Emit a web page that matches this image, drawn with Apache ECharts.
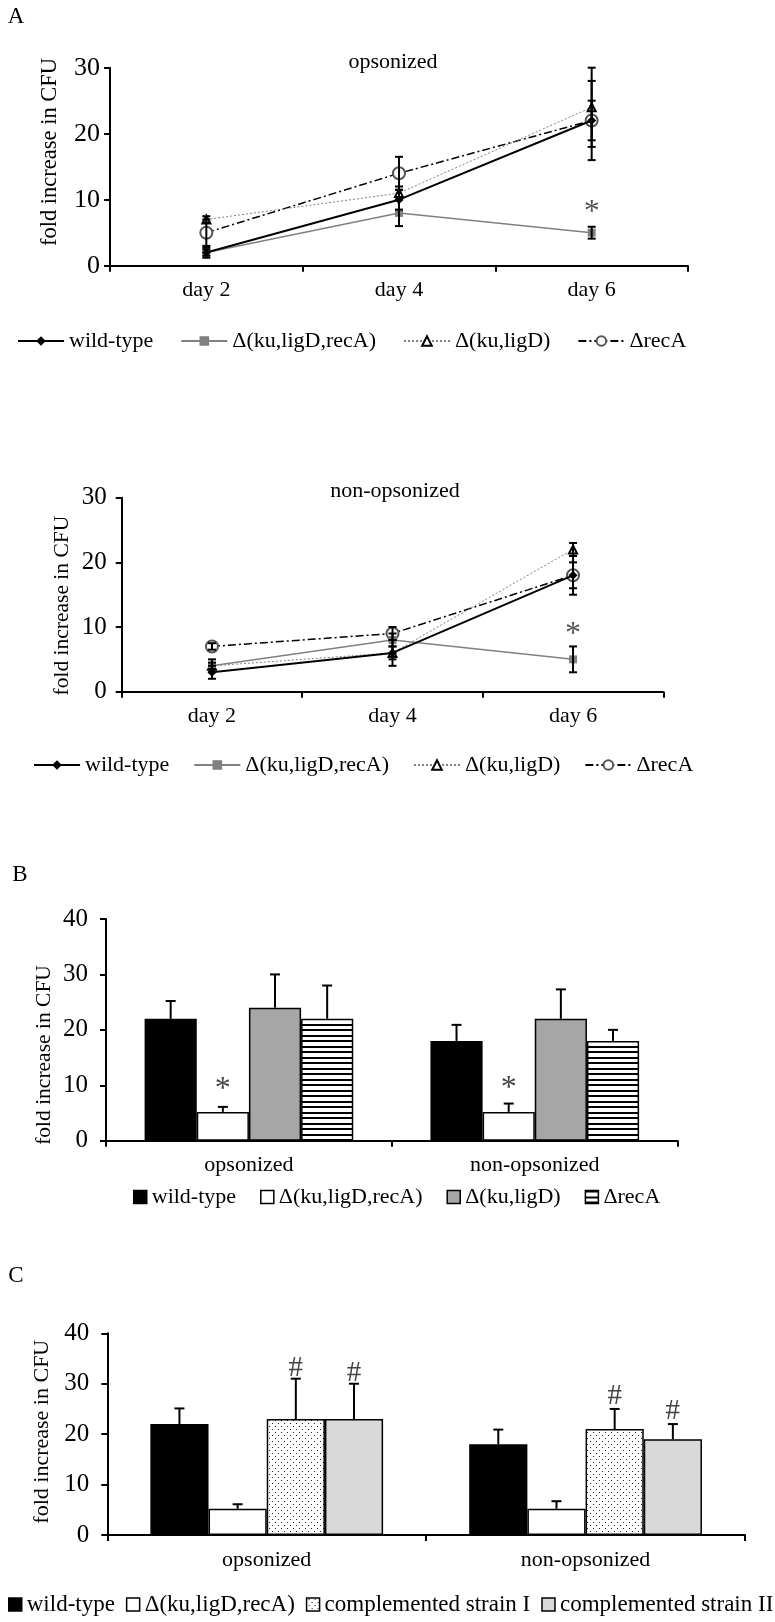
<!DOCTYPE html>
<html><head><meta charset="utf-8">
<script src="https://cdn.jsdelivr.net/npm/echarts@6/dist/echarts.min.js"></script>
<style>
html,body{margin:0;padding:0;background:#fff;}
#wrap{position:relative;width:775px;height:1622px;background:#fff;}
.panel{position:absolute;left:0;width:775px;}
</style></head><body>
<div id="wrap">
<div id="a1" class="panel" style="top:0;height:420px"></div>
<div id="a2" class="panel" style="top:420px;height:400px"></div>
<div id="b" class="panel" style="top:820px;height:410px"></div>
<div id="c" class="panel" style="top:1230px;height:392px"></div>
</div>
<script>
// ---------------- data ----------------
const days = ['day 2', 'day 4', 'day 6'];
const groups = ['opsonized', 'non-opsonized'];
const strainNames = ['wild-type', 'Δ(ku,ligD,recA)', 'Δ(ku,ligD)', 'ΔrecA'];
const compNames = ['wild-type', 'Δ(ku,ligD,recA)', 'complemented strain I', 'complemented strain II'];
const yLabel = 'fold increase in CFU';

// Panel A, opsonized (mean, error)
const opsWT = [2, 10, 22],   opsWTErr = [0.8, 1.5, 3];
const opsKLR = [2, 8, 5],    opsKLRErr = [0.5, 2, 0.9];
const opsKL = [7, 11, 24],   opsKLErr = [0.5, 1, 6];
const opsRecA = [5, 14, 22], opsRecAErr = [2, 2.5, 6];
const opsStar = [null, null, 8.0];

// Panel A, non-opsonized
const nonWT = [3, 6, 18],    nonWTErr = [1, 2, 2];
const nonKLR = [4, 8, 5],    nonKLRErr = [1, 1, 2];
const nonKL = [4, 6, 22],    nonKLErr = [0.5, 1, 1];
const nonRecA = [7, 9, 18],  nonRecAErr = [0.5, 1, 3];
const nonStar = [null, null, 8.8];

// Panel B (opsonized, non-opsonized)
const bWT = [22, 18],     bWTErr = [3.2, 2.9];
const bKLR = [5.2, 5.2],  bKLRErr = [0.9, 1.5];
const bKL = [24, 22],     bKLErr = [6, 5.3];
const bRecA = [22, 18],   bRecAErr = [6, 2];
const bStar = [9.2, 9.4];          // '*' above Δ(ku,ligD,recA)

// Panel C
const cWT = [22, 18],     cWTErr = [3.1, 2.9];
const cKLR = [5.2, 5.2],  cKLRErr = [0.9, 1.5];
const cComp1 = [23, 21],  cComp1Err = [8, 4];
const cComp2 = [23, 19],  cComp2Err = [7, 3];
const cHash1 = [33.1, 27.4];       // '#' above complemented strain I
const cHash2 = [32.1, 24.5];       // '#' above complemented strain II

// ---------------- styles ----------------
const FONT = "'Liberation Serif','Times New Roman',serif";
const lineStyles = [
  {line: '#000', type: 'solid', w: 2, sym: 'diamond', size: 9, item: '#000', z: 5},
  {line: '#808080', type: 'solid', w: 1.5, sym: 'rect', size: 8, item: '#808080', z: 4},
  {line: '#808080', type: [2, 2], w: 1, sym: 'emptyTriangle', size: 8, item: '#000', z: 3},
  {line: '#000', type: [8, 3, 2, 3], w: 1.5, sym: 'emptyCircle', size: 12, item: '#555', z: 2}
];

function stripePattern() {
  const c = document.createElement('canvas'); c.width = 4; c.height = 11;
  const g = c.getContext('2d');
  g.fillStyle = '#fff'; g.fillRect(0, 0, 4, 11);
  g.fillStyle = '#000'; g.fillRect(0, 0, 4, 2); g.fillRect(0, 6, 4, 2);
  return {image: c, repeat: 'repeat'};
}
function dotPattern() {
  const c = document.createElement('canvas'); c.width = 6; c.height = 6;
  const g = c.getContext('2d');
  g.fillStyle = '#fff'; g.fillRect(0, 0, 6, 6);
  g.fillStyle = '#222'; g.fillRect(2, 1, 1, 1); g.fillRect(5, 4, 1, 1);
  return {image: c, repeat: 'repeat'};
}

function gText(x, y, text, size, rot) {
  return {type: 'text', x: x, y: y, rotation: rot || 0,
    style: {text: text, fontSize: size, fontFamily: FONT, fill: '#000', align: 'center', verticalAlign: 'middle'}};
}

function capLines(x, yTop, yBot, hw, showBottom) {
  const st = {stroke: '#000', lineWidth: 2};
  const ch = [
    {type: 'line', shape: {x1: x, y1: yTop, x2: x, y2: yBot}, style: st},
    {type: 'line', shape: {x1: x - hw, y1: yTop, x2: x + hw, y2: yTop}, style: st}
  ];
  if (showBottom) ch.push({type: 'line', shape: {x1: x - hw, y1: yBot, x2: x + hw, y2: yBot}, style: st});
  return {type: 'group', children: ch};
}

// ---------------- line panels ----------------
function lineOption(cfg) {
  const vals = cfg.vals, errs = cfg.errs;
  const series = strainNames.map((n, s) => {
    const st = lineStyles[s];
    return {
      name: n, type: 'line', data: vals[s], z: st.z,
      symbol: st.sym, symbolSize: st.size,
      lineStyle: {color: st.line, type: st.type, width: st.w},
      itemStyle: {color: st.item, borderWidth: st.sym.indexOf('empty') === 0 ? 1.5 : 0}
    };
  });
  const errData = [];
  vals.forEach((arr, s) => arr.forEach((v, i) => errData.push([i, v - errs[s][i], v + errs[s][i]])));
  series.push({
    type: 'custom', z: 10, data: errData,
    renderItem: (p, api) => {
      const a = api.coord([api.value(0), api.value(2)]);
      const b = api.coord([api.value(0), api.value(1)]);
      return capLines(a[0], a[1], b[1], 4, true);
    }
  });
  const starData = cfg.star.map((v, i) => v == null ? null : [i, v]).filter(Boolean);
  series.push({
    type: 'custom', z: 10, data: starData,
    renderItem: (p, api) => {
      const a = api.coord([api.value(0), api.value(1)]);
      return {type: 'text', x: a[0], y: a[1],
        style: {text: '*', fontSize: 32, fontFamily: FONT, fill: '#555', align: 'center', verticalAlign: 'middle'}};
    }
  });
  return {
    animation: false,
    graphic: cfg.graphic,
    grid: cfg.grid,
    legend: Object.assign({
      data: strainNames, orient: 'horizontal', padding: 0, width: 770,
      itemWidth: 46, itemHeight: 12,
      textStyle: {fontSize: 22, fontFamily: FONT, color: '#000'}
    }, cfg.legend),
    xAxis: {
      type: 'category', data: days, boundaryGap: true,
      axisLine: {lineStyle: {color: '#000', width: 2}},
      axisTick: {show: true, length: 6, lineStyle: {color: '#000', width: 2}},
      axisLabel: {fontSize: 22, fontFamily: FONT, color: '#000', margin: 14}
    },
    yAxis: {
      type: 'value', min: 0, max: 30, interval: 10,
      splitLine: {show: false},
      axisLine: {show: true, lineStyle: {color: '#000', width: 2}},
      axisTick: {show: true, length: 6, lineStyle: {color: '#000', width: 2}},
      axisLabel: {fontSize: cfg.tickFont, fontFamily: FONT, color: '#000', margin: cfg.tickMargin}
    },
    series: series
  };
}

const chartA1 = echarts.init(document.getElementById('a1'), null, {renderer: 'canvas'});
chartA1.setOption(lineOption({
  vals: [opsWT, opsKLR, opsKL, opsRecA],
  errs: [opsWTErr, opsKLRErr, opsKLErr, opsRecAErr],
  star: opsStar,
  grid: {left: 110, top: 67.7, width: 578, height: 198},
  legend: {left: 17, top: 330, itemGap: 27},
  tickFont: 26, tickMargin: 10,
  graphic: [
    gText(16, 17, 'A', 23),
    gText(393, 62, 'opsonized', 22),
    gText(50, 152, yLabel, 22.5, Math.PI / 2)
  ]
}));

const chartA2 = echarts.init(document.getElementById('a2'), null, {renderer: 'canvas'});
chartA2.setOption(lineOption({
  vals: [nonWT, nonKLR, nonKL, nonRecA],
  errs: [nonWTErr, nonKLRErr, nonKLErr, nonRecAErr],
  star: nonStar,
  grid: {left: 121.7, top: 77.7, width: 541.6, height: 194},
  legend: {left: 33, top: 334, itemGap: 24},
  tickFont: 25, tickMargin: 15,
  graphic: [
    gText(395, 71.7, 'non-opsonized', 22),
    gText(62, 185.6, yLabel, 21.5, Math.PI / 2)
  ]
}));

// ---------------- bar panels ----------------
const GAP = 0.27;
function barOption(cfg) {
  const series = cfg.names.map((n, k) => ({
    name: n, type: 'bar', data: cfg.vals[k], barGap: '0%', barCategoryGap: (GAP * 100) + '%',
    itemStyle: {color: cfg.colors[k], borderColor: '#000', borderWidth: 1.5}
  }));
  const errData = [];
  cfg.vals.forEach((arr, k) => arr.forEach((v, i) => errData.push([i, v, cfg.errs[k][i], k])));
  const xOf = (api, cat, k) => {
    const band = api.size([1, 0])[0];
    const gw = band * (1 - GAP), bw = gw / cfg.names.length;
    return api.coord([cat, 0])[0] - gw / 2 + bw * (k + 0.5);
  };
  series.push({
    type: 'custom', z: 10, data: errData,
    renderItem: (p, api) => {
      const cat = api.value(0), v = api.value(1), e = api.value(2), k = api.value(3);
      const x = xOf(api, cat, k);
      const yT = api.coord([cat, v + e])[1], yB = api.coord([cat, v])[1];
      return capLines(x, yT, yB, 5, false);
    }
  });
  const markData = [];
  cfg.marks.forEach(m => m.vals.forEach((v, i) => markData.push([i, v, m.bar, m.text])));
  series.push({
    type: 'custom', z: 10, data: markData,
    dimensions: ['cat', 'val', 'bar', {name: 'txt', type: 'ordinal'}],
    renderItem: (p, api) => {
      const d = markData[p.dataIndex];
      const x = xOf(api, d[0], d[2]);
      const y = api.coord([d[0], d[1]])[1];
      return {type: 'text', x: x, y: y,
        style: {text: d[3], fontSize: d[3] === '*' ? 32 : 29, fontFamily: FONT, fill: '#444',
          align: 'center', verticalAlign: 'middle'}};
    }
  });
  return {
    animation: false,
    graphic: cfg.graphic,
    grid: cfg.grid,
    legend: Object.assign({
      data: cfg.names, orient: 'horizontal', padding: 0, width: 775,
      icon: 'rect', itemWidth: 13, itemHeight: 13,
      itemStyle: {borderColor: '#000', borderWidth: 1.5}
    }, cfg.legend),
    xAxis: {
      type: 'category', data: groups, boundaryGap: true,
      axisLine: {lineStyle: {color: '#000', width: 2}},
      axisTick: {show: true, length: 6, lineStyle: {color: '#000', width: 2}},
      axisLabel: {fontSize: 22, fontFamily: FONT, color: '#000', margin: 14}
    },
    yAxis: {
      type: 'value', min: 0, max: 40, interval: 10,
      splitLine: {show: false},
      axisLine: {show: true, lineStyle: {color: '#000', width: 2}},
      axisTick: {show: true, length: 6, lineStyle: {color: '#000', width: 2}},
      axisLabel: {fontSize: 25, fontFamily: FONT, color: '#000', margin: cfg.tickMargin}
    },
    series: series
  };
}

const chartB = echarts.init(document.getElementById('b'), null, {renderer: 'canvas'});
chartB.setOption(barOption({
  names: strainNames,
  vals: [bWT, bKLR, bKL, bRecA],
  errs: [bWTErr, bKLRErr, bKLErr, bRecAErr],
  colors: ['#000', '#fff', '#a6a6a6', stripePattern()],
  marks: [{vals: bStar, bar: 1, text: '*'}],
  grid: {left: 106, top: 99, width: 571.7, height: 221.7},
  legend: {left: 133, top: 366, itemGap: 24,
    textStyle: {fontSize: 22, fontFamily: FONT, color: '#000'}},
  tickMargin: 18,
  graphic: [
    gText(20, 55, 'B', 23),
    gText(44, 235, yLabel, 21.5, Math.PI / 2)
  ]
}));

const chartC = echarts.init(document.getElementById('c'), null, {renderer: 'canvas'});
chartC.setOption(barOption({
  names: compNames,
  vals: [cWT, cKLR, cComp1, cComp2],
  errs: [cWTErr, cKLRErr, cComp1Err, cComp2Err],
  colors: ['#000', '#fff', dotPattern(), '#d9d9d9'],
  marks: [{vals: cHash1, bar: 2, text: '#'}, {vals: cHash2, bar: 3, text: '#'}],
  grid: {left: 107.3, top: 103.3, width: 637.7, height: 201.7},
  legend: {left: 8, top: 363, itemGap: 11,
    textStyle: {fontSize: 23, fontFamily: FONT, color: '#000'}},
  tickMargin: 18,
  graphic: [
    gText(16, 46, 'C', 23),
    gText(42, 201.7, yLabel, 22, Math.PI / 2)
  ]
}));
</script>
</body></html>
